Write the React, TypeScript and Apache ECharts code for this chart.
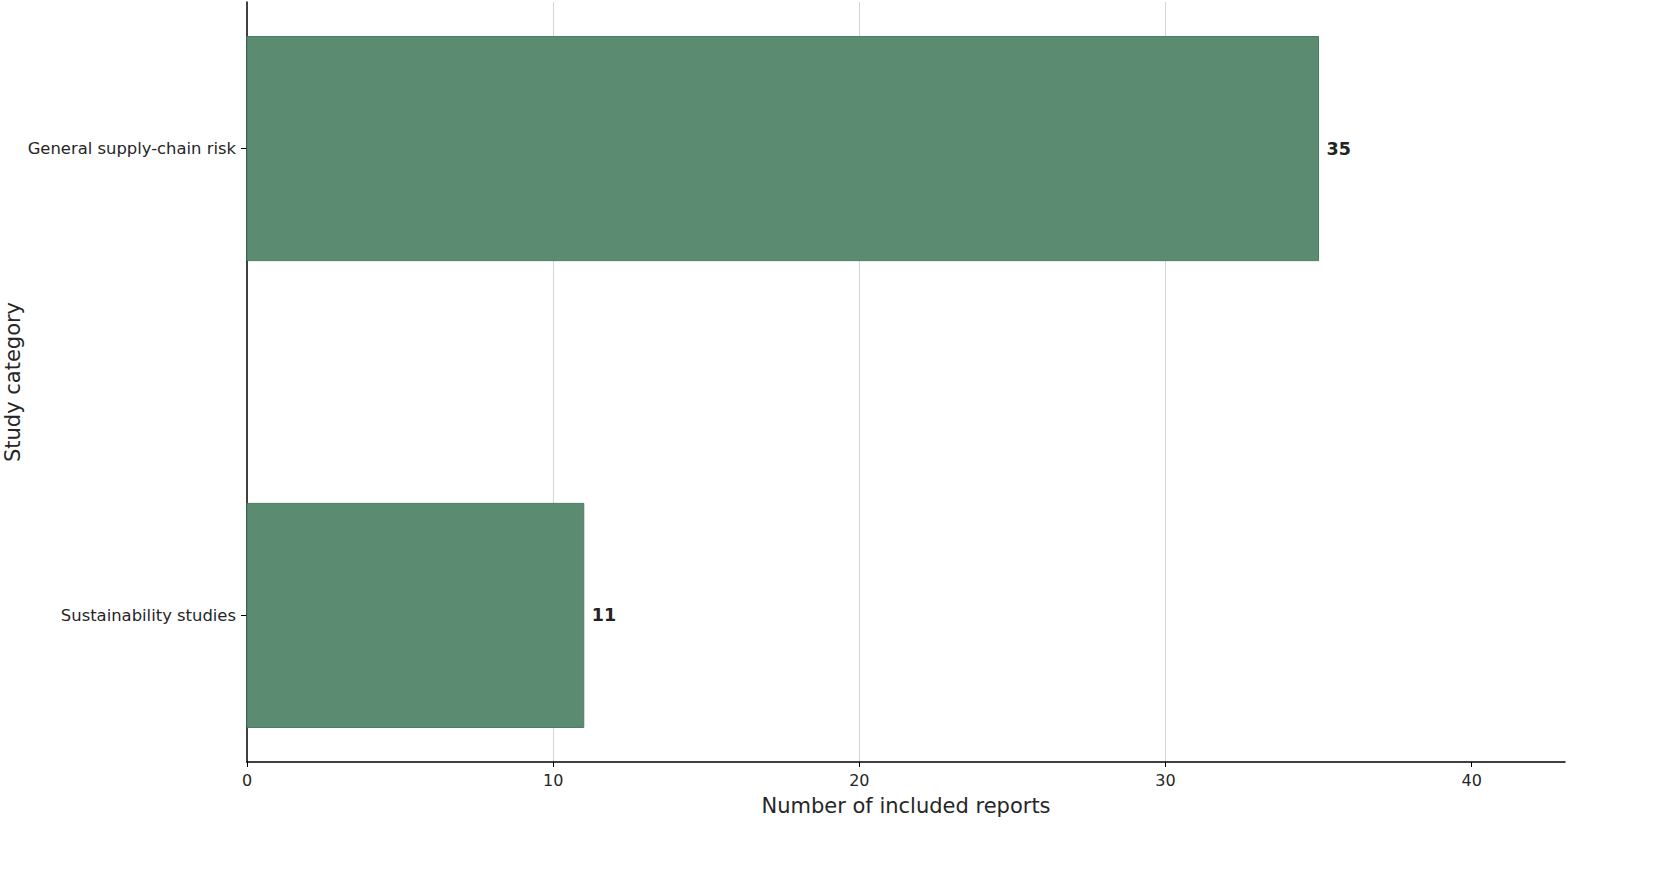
import React, { useEffect, useRef } from "react";
import * as echarts from "echarts";

const categories = ["Sustainability studies", "General supply-chain risk"];
const positions = [0, 1];
const values = [11, 35];
const xTicks = [0, 10, 20, 30, 40];

const BAR_H = 0.48;
const FONT = "DejaVu Sans";

export default function App() {
  const ref = useRef<HTMLDivElement>(null);
  useEffect(() => {
    if (!ref.current) return;
    const chart = echarts.init(ref.current, undefined, { renderer: "svg" });
    const data = values.map((v, i) => [v, positions[i]]);
    chart.setOption({
      animation: false,
      backgroundColor: "#ffffff",
      grid: {
        left: 247,
        right: 100,
        top: 2,
        bottom: 109,
        containLabel: false,
        outerBoundsMode: "none",
      },
      xAxis: {
        type: "value",
        min: 0,
        max: 43.05,
        interval: 10,
        name: "Number of included reports",
        nameLocation: "middle",
        nameGap: 33,
        nameMoveOverlap: false,
        nameTextStyle: { fontFamily: FONT, fontSize: 21, color: "#262626" },
        axisLine: { show: true, onZero: false, lineStyle: { color: "#000", width: 1.5 } },
        axisTick: { show: true, length: 5, customValues: xTicks, lineStyle: { color: "#000", width: 1 } },
        axisLabel: {
          customValues: xTicks,
          margin: 10,
          fontFamily: FONT,
          fontSize: 16,
          color: "#262626",
        },
        splitLine: {
          show: true,
          showMinLine: false,
          showMaxLine: false,
          lineStyle: { color: "#d4d4dc", width: 1 },
        },
      },
      yAxis: {
        type: "value",
        min: -0.314,
        max: 1.314,
        name: "Study category",
        nameLocation: "middle",
        nameRotate: 90,
        nameGap: 224,
        nameMoveOverlap: false,
        nameTextStyle: { fontFamily: FONT, fontSize: 21, color: "#262626" },
        axisLine: { show: true, onZero: false, lineStyle: { color: "#000", width: 1.5 } },
        axisTick: { show: true, length: 6, customValues: positions, lineStyle: { color: "#000", width: 1 } },
        axisLabel: {
          customValues: positions,
          margin: 11,
          fontFamily: FONT,
          fontSize: 16.4,
          color: "#262626",
          formatter: (v: number) => {
            const i = positions.indexOf(Math.round(v));
            return i >= 0 ? categories[i] : "";
          },
        },
        splitLine: { show: false },
      },
      series: [
        {
          type: "custom",
          data,
          encode: { x: 0, y: 1 },
          renderItem: (params: any, api: any) => {
            const v = api.value(0);
            const c = api.value(1);
            const p0 = api.coord([0, c]);
            const p1 = api.coord([v, c]);
            const h = api.size([0, BAR_H])[1];
            return {
              type: "group",
              children: [
                {
                  type: "rect",
                  shape: { x: p0[0], y: p0[1] - h / 2, width: p1[0] - p0[0], height: h },
                  style: { fill: "#5b8c72", stroke: "#4a7b61", lineWidth: 1 },
                },
                {
                  type: "text",
                  x: p1[0] + 8,
                  y: p1[1],
                  style: {
                    text: String(v),
                    fill: "#222222",
                    fontFamily: FONT,
                    fontSize: 17.5,
                    fontWeight: "bold",
                    align: "left",
                    verticalAlign: "middle",
                  },
                },
              ],
            };
          },
        },
      ],
    });
    return () => chart.dispose();
  }, []);
  return (
    <div
      ref={ref}
      style={{ position: "fixed", left: 0, top: 0, width: 1665, height: 871 }}
    />
  );
}
